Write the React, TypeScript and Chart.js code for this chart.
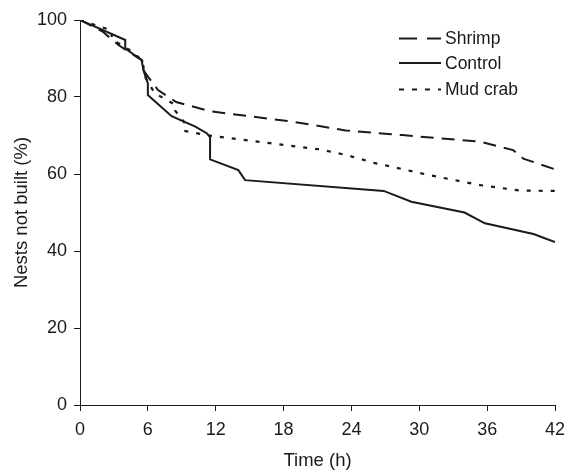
import React, { useEffect, useRef } from "react";
import { Chart, registerables } from "chart.js";

Chart.register(...registerables);

const FONT = '"Liberation Sans", Arial, sans-serif';
const INK = "#1a1a1a";

const xTicks = [0, 6, 12, 18, 24, 30, 36, 42];
const yTicks = [0, 20, 40, 60, 80, 100];

const seriesNames = ["Shrimp", "Control", "Mud crab"];

const shrimpTime = [0, 2, 3.4, 4.7, 5.5, 5.7, 6.9, 8.5, 11.5, 15, 19, 23.5, 28.5, 35.4, 38.3, 39.2, 42];
const shrimpPct = [100, 97, 93.5, 91, 89.5, 86.5, 81.8, 78.7, 76.3, 75, 73.5, 71.3, 70.1, 68.4, 66.2, 64, 61.2];

const controlTime = [0, 4.0, 4.0, 5.45, 5.6, 6.0, 6.0, 8.1, 10.2, 11.2, 11.5, 11.5, 14.0, 14.6, 26.85, 29.3, 34.0, 35.8, 40.1, 42];
const controlPct = [100, 94.8, 92.6, 89.6, 87, 83.5, 80.5, 75, 72.3, 70.6, 69.6, 63.8, 61, 58.4, 55.6, 52.8, 50, 47.2, 44.4, 42.3];

const mudTime = [0, 2.8, 2.8, 4.5, 5.5, 5.8, 6.6, 8.4, 8.4, 9.2, 9.2, 11.2, 16.8, 21.2, 23.6, 26, 30.9, 35.4, 38.9, 42];
const mudPct = [100, 97.3, 95, 92, 89.5, 85, 81, 78, 76.5, 73.5, 71.2, 70.1, 68, 66.4, 64.9, 62.9, 59.7, 57.1, 55.7, 55.6];

const toPoints = (t: number[], v: number[]) => t.map((x, i) => ({ x, y: v[i] }));

const legendPlugin = {
  id: "customLegend",
  afterDraw(chart: any) {
    const ctx = chart.ctx;
    const rows = [
      { y: 38.5, dash: [18, 10], label: seriesNames[0] },
      { y: 63, dash: [], label: seriesNames[1] },
      { y: 89.5, dash: [5, 8], label: seriesNames[2] },
    ];
    ctx.save();
    rows.forEach((r) => {
      ctx.beginPath();
      ctx.setLineDash(r.dash);
      ctx.lineWidth = 2.2;
      ctx.strokeStyle = INK;
      ctx.moveTo(399, r.y);
      ctx.lineTo(441, r.y);
      ctx.stroke();
      ctx.setLineDash([]);
      ctx.fillStyle = INK;
      ctx.font = `17.5px ${FONT}`;
      ctx.textAlign = "left";
      ctx.textBaseline = "middle";
      ctx.fillText(r.label, 445, r.y + 1);
    });
    ctx.restore();
  },
};

export default function App() {
  const ref = useRef<HTMLCanvasElement | null>(null);
  useEffect(() => {
    if (!ref.current) return;
    const chart = new Chart(ref.current, {
      type: "line",
      data: {
        datasets: [
          {
            label: seriesNames[0],
            data: toPoints(shrimpTime, shrimpPct),
            borderColor: INK,
            borderWidth: 2,
            borderDash: [13, 8],
            pointRadius: 0,
            tension: 0,
            fill: false,
          },
          {
            label: seriesNames[1],
            data: toPoints(controlTime, controlPct),
            borderColor: INK,
            borderWidth: 2,
            pointRadius: 0,
            tension: 0,
            fill: false,
          },
          {
            label: seriesNames[2],
            data: toPoints(mudTime, mudPct),
            borderColor: INK,
            borderWidth: 2.2,
            borderDash: [4, 8],
            pointRadius: 0,
            tension: 0,
            fill: false,
          },
        ],
      },
      options: {
        responsive: false,
        animation: false,
        layout: { padding: { top: 20, right: 10, left: 0, bottom: 0 } },
        plugins: { legend: { display: false }, tooltip: { enabled: false } },
        scales: {
          x: {
            type: "linear",
            min: 0,
            max: 42,
            afterBuildTicks: (s: any) => {
              s.ticks = xTicks.map((v) => ({ value: v }));
            },
            afterFit: (s: any) => {
              s.height = 69;
              s.paddingRight = 0;
              s.paddingLeft = 0;
            },
            ticks: { color: INK, font: { family: FONT, size: 18 }, padding: 8, maxRotation: 0, autoSkip: false },
            grid: { drawOnChartArea: false, drawTicks: true, tickLength: 6, color: INK, lineWidth: 1 },
            border: { color: INK, width: 1 },
            title: {
              display: true,
              text: "Time (h)",
              color: INK,
              font: { family: FONT, size: 18.5, lineHeight: 1.2 },
              padding: { top: 0, bottom: 2 },
            },
          },
          y: {
            type: "linear",
            min: 0,
            max: 100,
            afterBuildTicks: (s: any) => {
              s.ticks = yTicks.map((v) => ({ value: v }));
            },
            afterFit: (s: any) => {
              s.width = 80;
            },
            ticks: { color: INK, font: { family: FONT, size: 18 }, padding: 7 },
            grid: { drawOnChartArea: false, drawTicks: true, tickLength: 6, color: INK, lineWidth: 1 },
            border: { color: INK, width: 1 },
            title: {
              display: true,
              text: "Nests not built (%)",
              color: INK,
              font: { family: FONT, size: 18.5, lineHeight: 1.2 },
              padding: { top: 11, bottom: 0 },
            },
          },
        },
      },
      plugins: [legendPlugin],
    });
    return () => chart.destroy();
  }, []);
  return (
    <div style={{ position: "absolute", left: 0, top: 0, width: 565, height: 474, background: "#fff" }}>
      <canvas ref={ref} width={565} height={474} style={{ display: "block" }} />
    </div>
  );
}
